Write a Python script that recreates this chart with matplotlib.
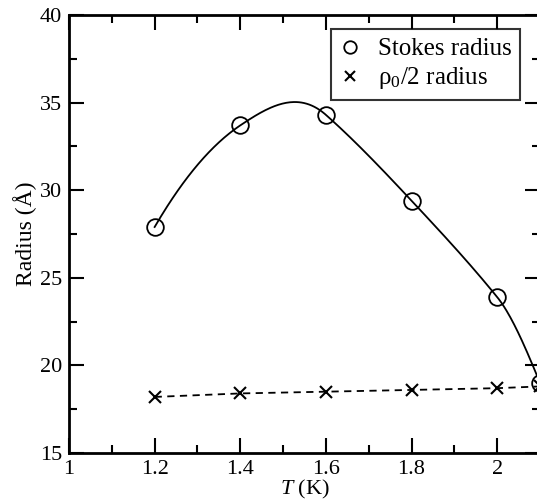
import matplotlib
matplotlib.use("Agg")
import matplotlib.pyplot as plt
import numpy as np

# data
temp = [1.2, 1.4, 1.6, 1.8, 2.0, 2.1]
stokes = [27.9, 33.7, 34.3, 29.4, 23.9, 19.0]
rho_half = [18.2, 18.4, 18.5, 18.6, 18.7, 18.8]


def akima(x, y, xs):
    # Akima interpolation (what grace uses for its smooth curves)
    x = np.asarray(x, float)
    y = np.asarray(y, float)
    n = len(x)
    m = np.diff(y) / np.diff(x)
    mm = np.empty(n + 3)
    mm[2:n + 1] = m
    mm[1] = 2 * mm[2] - mm[3]
    mm[0] = 2 * mm[1] - mm[2]
    mm[n + 1] = 2 * mm[n] - mm[n - 1]
    mm[n + 2] = 2 * mm[n + 1] - mm[n]
    t = np.empty(n)
    for i in range(n):
        w1 = abs(mm[i + 3] - mm[i + 2])
        w2 = abs(mm[i + 1] - mm[i])
        if w1 + w2 == 0:
            t[i] = 0.5 * (mm[i + 1] + mm[i + 2])
        else:
            t[i] = (w1 * mm[i + 1] + w2 * mm[i + 2]) / (w1 + w2)
    out = np.empty_like(xs)
    for k, v in enumerate(xs):
        i = min(max(np.searchsorted(x, v) - 1, 0), n - 2)
        h = x[i + 1] - x[i]
        s = (v - x[i]) / h
        out[k] = (y[i] * (2 * s**3 - 3 * s**2 + 1) + h * t[i] * (s**3 - 2 * s**2 + s)
                  + y[i + 1] * (-2 * s**3 + 3 * s**2) + h * t[i + 1] * (s**3 - s**2))
    return out


plt.rcParams['font.family'] = ['Liberation Serif', 'DejaVu Serif']
plt.rcParams['mathtext.fontset'] = 'custom'
plt.rcParams['mathtext.rm'] = 'Liberation Serif'
plt.rcParams['mathtext.it'] = 'Liberation Serif:italic'

fig = plt.figure(figsize=(5.37, 5.00), dpi=100)
ax = fig.add_axes([69 / 537, 47 / 500, 471 / 537, 438 / 500])

xs = np.linspace(temp[0], temp[-1], 300)
ax.plot(xs, akima(temp, stokes, xs), color='black', lw=1.3, clip_on=False)
ax.plot(temp, stokes, 'o', ms=12, mfc='none', mec='black', mew=1.3,
        label='Stokes radius', clip_on=False)
ax.plot(temp, rho_half, '--', color='black', lw=1.3, dashes=(4, 3), clip_on=False)
ax.plot(temp, rho_half, 'x', ms=9, color='black', mew=1.5,
        label='ρ$_0$/2 radius', clip_on=False)

ax.set_xlim(1, 2.1)
ax.set_ylim(15, 40)
ax.set_xticks([1, 1.2, 1.4, 1.6, 1.8, 2])
ax.set_xticklabels(['1', '1.2', '1.4', '1.6', '1.8', '2'])
ax.set_xticks(np.arange(1.1, 2.1, 0.2), minor=True)
ax.set_yticks([15, 20, 25, 30, 35, 40])
ax.set_yticks([17.5, 22.5, 27.5, 32.5, 37.5], minor=True)
ax.tick_params(which='both', direction='in', top=True, right=True,
               labelsize=16, width=1.5, pad=5)
ax.tick_params(which='major', length=11)
ax.tick_params(which='minor', length=6)
for s in ax.spines.values():
    s.set_linewidth(2)

ax.set_xlabel('$T$ (K)', fontsize=16, labelpad=-1)
ax.set_ylabel('Radius (Å)', fontsize=17, labelpad=2)

leg = ax.legend(loc='upper right', bbox_to_anchor=(0.958, 0.968), fontsize=18,
                frameon=True, fancybox=False, edgecolor='black', markerscale=0.75,
                handlelength=0.8, handletextpad=0.7, borderpad=0.35,
                labelspacing=0.2, borderaxespad=0)
leg.get_frame().set_linewidth(1.5)

fig.savefig('out.png', dpi=100)
